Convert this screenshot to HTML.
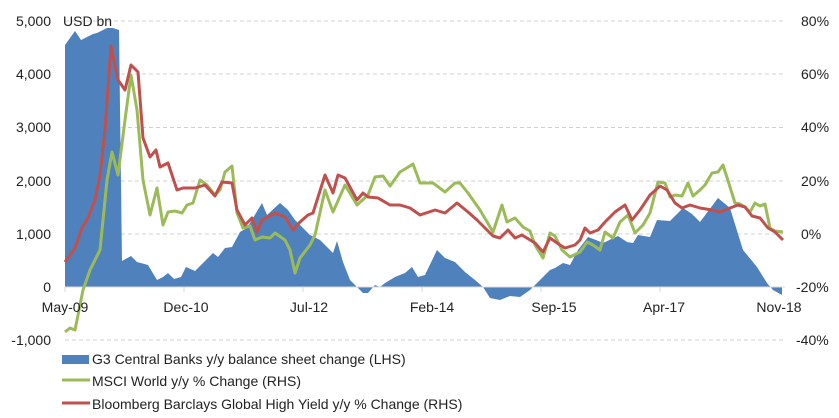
<!DOCTYPE html>
<html><head><meta charset="utf-8"><style>
body{margin:0;background:#fff;}
svg{display:block;font-family:"Liberation Sans",sans-serif;}
</style></head><body>
<svg width="839" height="418" viewBox="0 0 839 418" xmlns="http://www.w3.org/2000/svg">
<g stroke="#d0d0d0" stroke-dasharray="4,3" stroke-width="1">
<line x1="65" y1="21" x2="785" y2="21"/><line x1="65" y1="74" x2="785" y2="74"/><line x1="65" y1="127.5" x2="785" y2="127.5"/><line x1="65" y1="181" x2="785" y2="181"/><line x1="65" y1="234" x2="785" y2="234"/><line x1="65" y1="340" x2="785" y2="340"/>
</g>
<polygon fill="#4f81bd" points="65,287 65,45 75,31 81,40 93,34 97,33 107,28 113,28 119,30 122,261 131,256 137,262 148,265 157,280 163,277 168,273 174,279 181,277 186,267 195,271 202,264 213,253 218,257 225,248 232,247 240,232 247,228 262,203 267,215 280,203 288,210 295,220 303,228 310,235 320,240 328,248 333,253 337,241 343,262 350,280 357,287 363,293 368,293 375,285 380,287 385,283 395,277 405,273 412,267 418,277 425,275 437,250 445,258 455,262 465,272 475,280 483,287 490,298 500,300 510,296 520,297 530,290 540,280 550,270 555,268 563,263 570,265 578,250 588,237 596,240 603,243 618,236 627,242 633,243 638,235 650,237 657,220 670,221 683,208 692,214 700,222 718,198 730,208 743,250 757,267 767,283 773,290 782,295 782,287"/>
<line x1="65" y1="287" x2="785" y2="287" stroke="#d9d9d9"/>
<g stroke="#d9d9d9"><line x1="65" y1="287" x2="65" y2="292"/><line x1="184" y1="287" x2="184" y2="292"/><line x1="303" y1="287" x2="303" y2="292"/><line x1="422" y1="287" x2="422" y2="292"/><line x1="541" y1="287" x2="541" y2="292"/><line x1="660" y1="287" x2="660" y2="292"/></g>
<polyline fill="none" stroke="#9bbb59" stroke-width="3" stroke-linejoin="round" points="65,332 70,328 75,330 83,290 90,270 100,250 107,180 112,152 118,175 125,120 131,75 137,110 143,180 150,215 157,188 163,225 168,212 175,211 182,213 187,205 193,203 200,180 207,185 215,195 220,190 225,172 232,166 237,213 243,228 250,226 255,240 262,237 270,238 275,233 285,240 290,250 295,273 300,258 310,245 315,235 325,190 333,212 345,185 357,205 368,195 375,177 383,176 390,186 400,172 410,166 413,164 420,183 433,183 445,192 455,183 460,183 468,193 480,210 493,232 502,205 507,222 515,218 523,227 530,231 535,245 543,258 550,233 555,236 562,250 570,257 580,252 587,242 593,245 600,250 605,232 613,238 620,222 628,215 635,233 643,225 650,213 658,182 665,183 670,197 675,195 682,196 688,183 693,196 700,190 705,185 712,173 718,172 723,165 730,187 735,203 740,204 745,207 750,212 755,203 760,206 765,204 770,228 775,231 783,232"/>
<polyline fill="none" stroke="#c0504d" stroke-width="3" stroke-linejoin="round" points="65,262 75,248 82,228 88,218 95,200 100,175 105,130 111,46 118,80 125,90 131,65 138,72 143,138 150,157 156,150 160,167 168,163 177,190 183,188 195,188 205,185 215,196 222,182 232,183 237,210 245,225 252,218 257,232 262,220 275,213 285,217 293,230 300,222 308,215 313,213 325,175 333,193 338,175 345,178 357,200 363,193 368,197 378,198 390,205 400,205 410,208 420,215 435,210 445,213 457,203 468,212 477,220 493,236 500,238 508,230 515,238 522,235 535,243 543,252 550,238 560,245 565,248 575,245 580,240 585,228 590,233 598,230 605,222 615,212 625,205 632,220 640,210 650,195 660,186 667,190 675,203 682,208 690,205 700,208 712,210 720,212 730,208 738,205 745,207 752,216 760,218 768,228 775,232 783,240"/>
<g font-size="14" fill="#222" text-anchor="end">
<text x="51" y="26">5,000</text><text x="51" y="79">4,000</text><text x="51" y="132">3,000</text><text x="51" y="186">2,000</text><text x="51" y="239">1,000</text><text x="51" y="292">0</text><text x="51" y="345">-1,000</text>
</g>
<text x="63" y="26" font-size="14" fill="#222">USD bn</text>
<g font-size="14" fill="#222">
<text x="801" y="26">80%</text><text x="801" y="79">60%</text><text x="801" y="132">40%</text><text x="801" y="186">20%</text><text x="801" y="239">0%</text><text x="796" y="292">-20%</text><text x="796" y="345">-40%</text>
</g>
<g font-size="14" fill="#222" text-anchor="middle">
<text x="65" y="312">May-09</text><text x="186" y="312">Dec-10</text><text x="309" y="312">Jul-12</text><text x="432" y="312">Feb-14</text><text x="554" y="312">Sep-15</text><text x="664" y="312">Apr-17</text><text x="779" y="312">Nov-18</text>
</g>
<rect x="62" y="355" width="27" height="9" fill="#4f81bd"/>
<line x1="62" y1="380" x2="90" y2="380" stroke="#9bbb59" stroke-width="3"/>
<line x1="62" y1="403" x2="90" y2="403" stroke="#c0504d" stroke-width="3"/>
<g font-size="14" fill="#222">
<text x="92" y="364">G3 Central Banks y/y balance sheet change (LHS)</text>
<text x="92" y="386">MSCI World y/y % Change (RHS)</text>
<text x="92" y="409">Bloomberg Barclays Global High Yield y/y % Change (RHS)</text>
</g>
</svg>
</body></html>
